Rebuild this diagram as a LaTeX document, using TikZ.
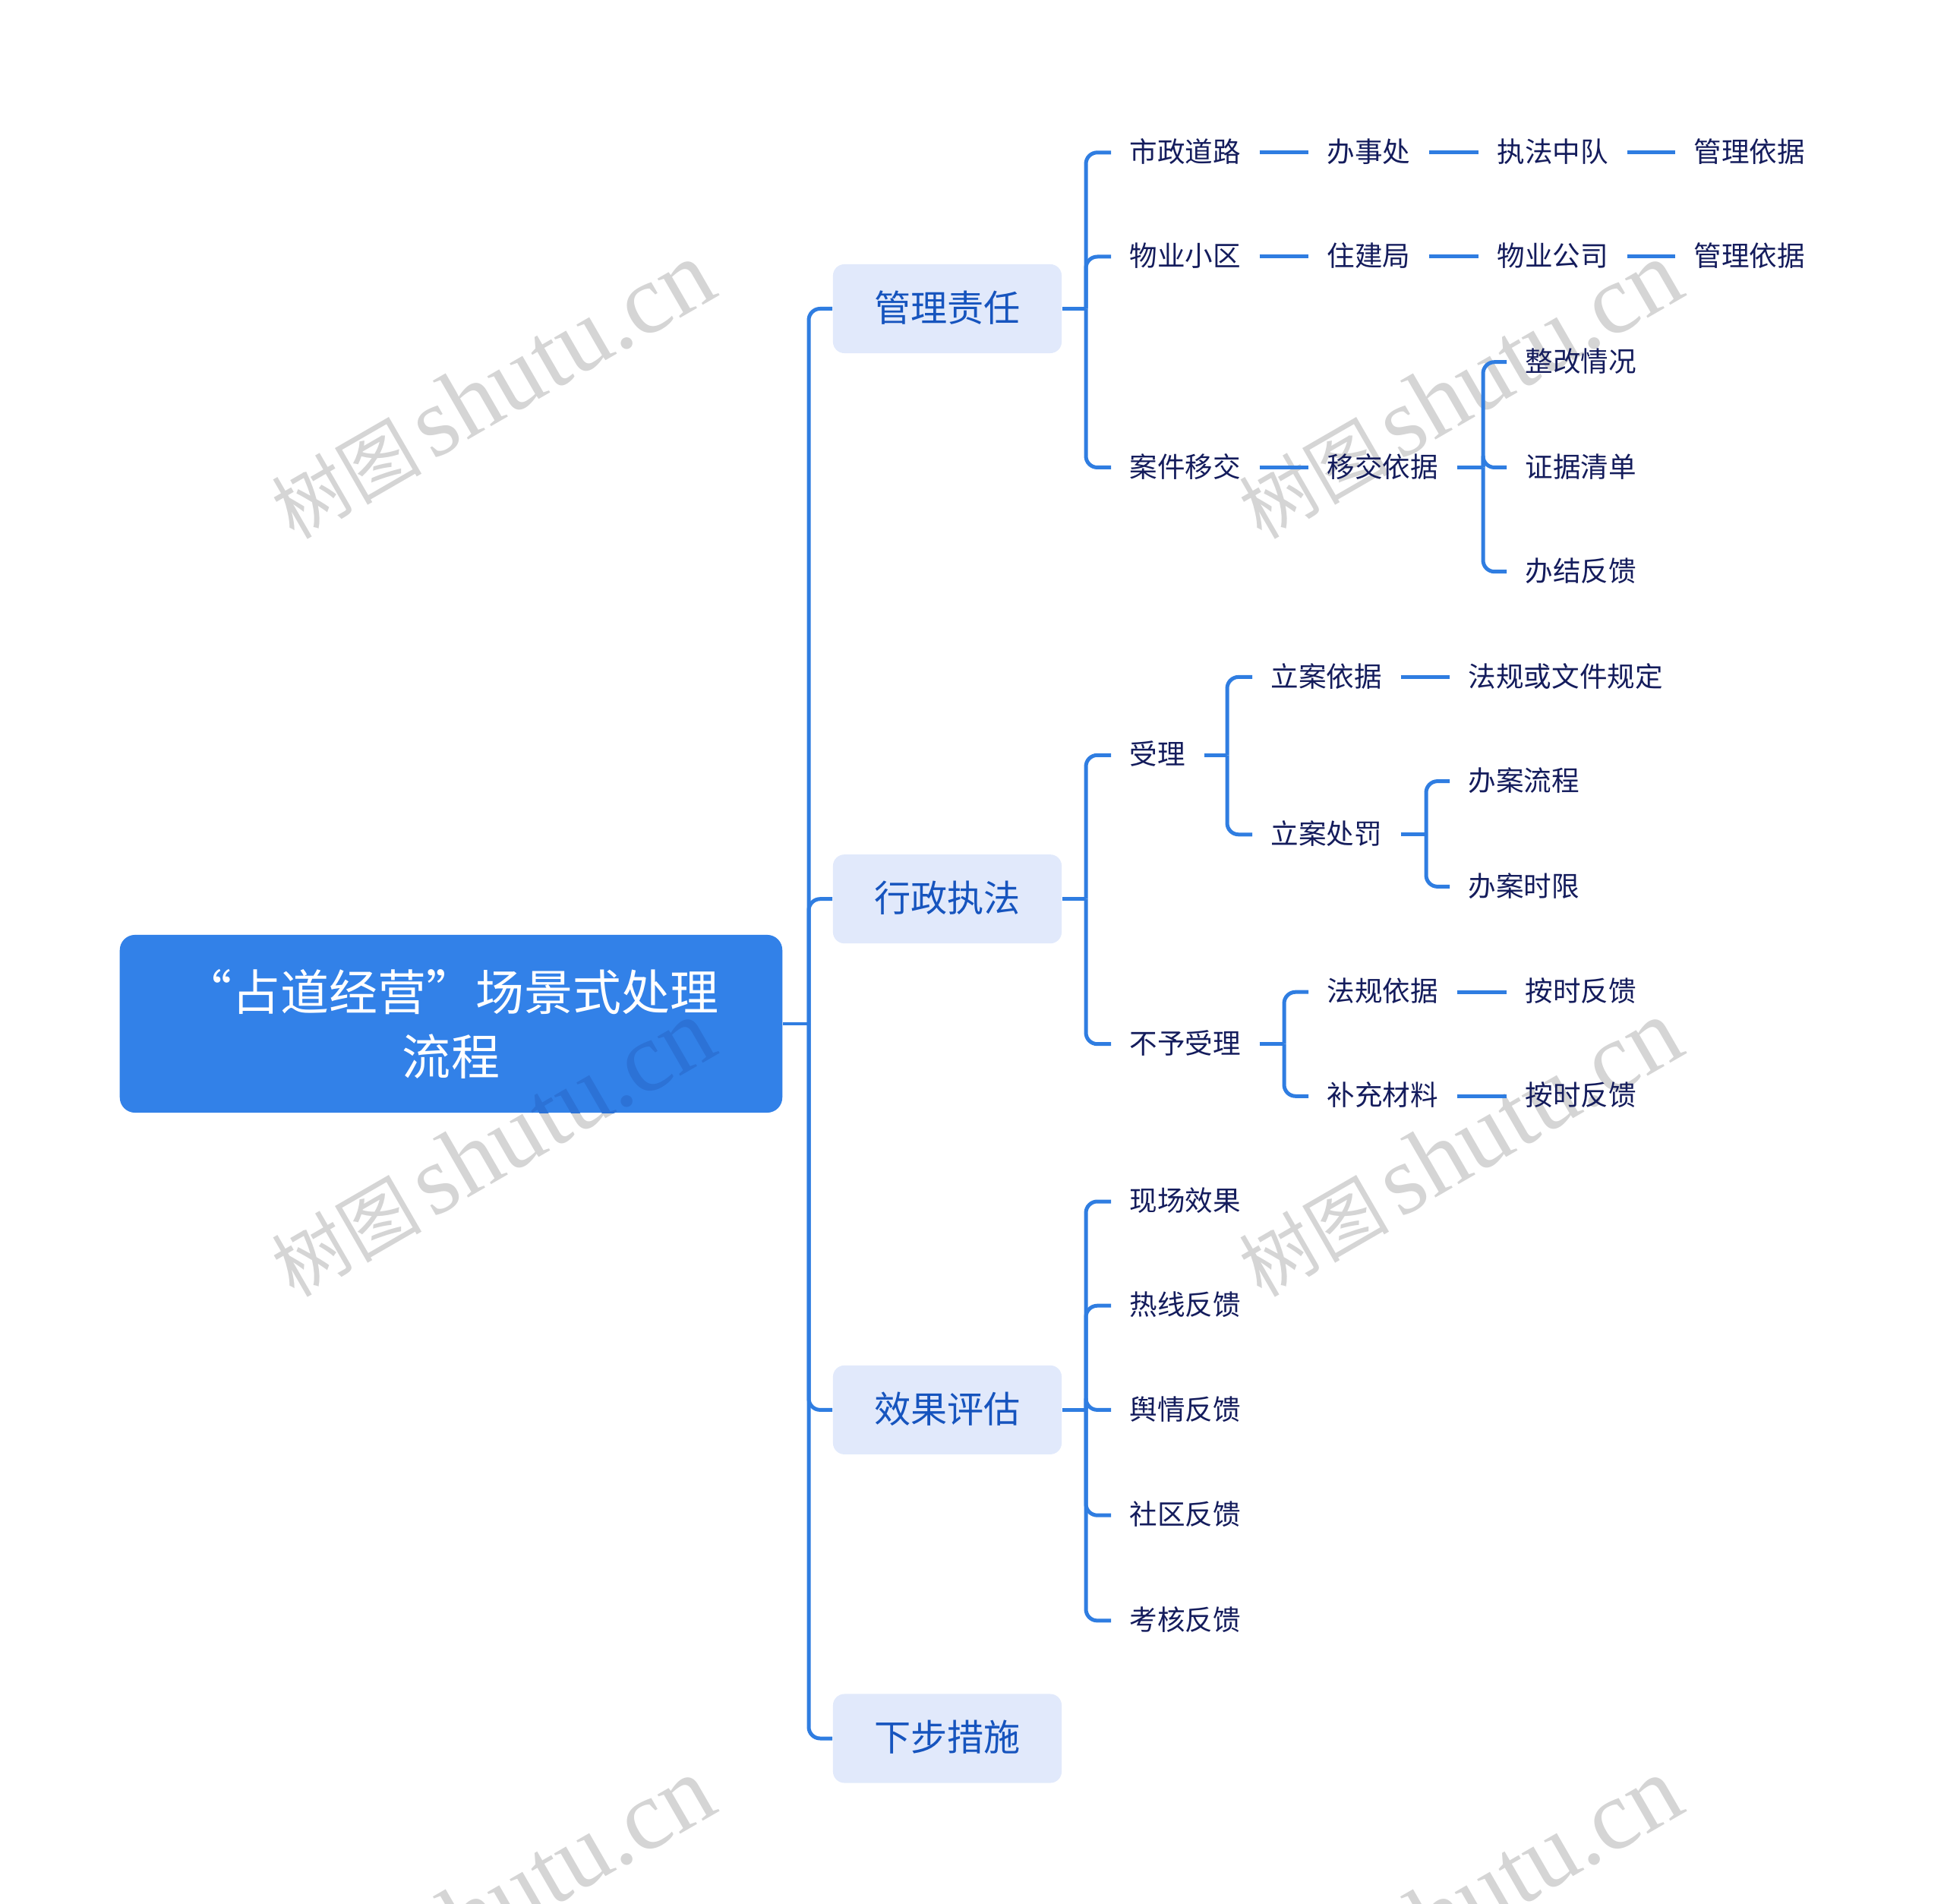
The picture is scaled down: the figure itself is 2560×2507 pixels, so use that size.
\documentclass[tikz,border=0pt]{standalone}
\usepackage{fontspec}
\newfontfamily\cjk{Noto Sans CJK SC}
\newfontfamily\wmfont{Liberation Serif}
\definecolor{lnblue}{HTML}{2F7DE1}
\definecolor{rootfill}{HTML}{3281E8}
\definecolor{boxfill}{HTML}{E1E9FB}
\definecolor{ltext}{HTML}{1654BE}
\definecolor{navy}{HTML}{141C5C}
\definecolor{wm}{HTML}{D5D5D5}
\definecolor{wmdark}{HTML}{2C72D6}
\newcommand{\wmtext}{{\cjk\fontsize{28pt}{30pt}\selectfont 树图}\hspace{4pt}{\wmfont\fontsize{37pt}{40pt}\selectfont shutu.cn}}
\begin{document}
\begin{tikzpicture}[x=0.01cm,y=-0.01cm,
 conn/.style={draw=lnblue, line width=1.42pt, rounded corners=0.15cm},
 leaf/.style={anchor=west, inner xsep=0.24cm, inner ysep=0pt, text=navy,
   font=\cjk\fontsize{10.4pt}{12pt}\selectfont, text height=8.8pt, text depth=1.6pt},
 lone/.style={fill=boxfill, rounded corners=0.15cm, minimum width=3.01cm,
   minimum height=1.17cm, text=ltext, font=\cjk\fontsize{13.7pt}{16pt}\selectfont,
   inner sep=0pt, text height=11.6pt, text depth=2.1pt},
 rootbox/.style={fill=rootfill, rounded corners=0.2cm, minimum width=8.72cm,
   minimum height=2.34cm, text=white, align=center,
   font=\cjk\fontsize{18.2pt}{24.2pt}\selectfont, inner sep=0pt},
 wmk/.style={rotate=30, inner sep=0pt}
]
\useasboundingbox (0,0) rectangle (2560,2507);
\clip (0,0) rectangle (2560,2507);

% watermarks
\node[wmk, text=wm] (w1) at (648,514) {\wmtext};
\node[wmk, text=wm] (w2) at (1922,514) {\wmtext};
\node[wmk, text=wm] (w3) at (648,1512) {\wmtext};
\node[wmk, text=wm] (w4) at (1922,1512) {\wmtext};
\node[wmk, text=wm] (w5) at (648,2510) {\wmtext};
\node[wmk, text=wm] (w6) at (1922,2510) {\wmtext};

% root and main branches
\node[rootbox] (root) at (594,1348) {“占道经营”场景式处理\\流程};
\begin{scope}
\clip[rounded corners=0.2cm] (root.north west) rectangle (root.south east);
\node[wmk, text=wmdark] (w3b) at (648,1512) {\wmtext};
\end{scope}

\node[lone] (g1) at (1247.5,406.5) {管理责任};
\node[lone] (g2) at (1247.5,1183.7) {行政执法};
\node[lone] (g3) at (1247.5,1856.4) {效果评估};
\node[lone] (g4) at (1247.5,2289) {下步措施};

\coordinate (sp0) at (1065,1348);
\draw[conn] (root.east) -- (sp0);
\foreach \g in {g1,g2,g3,g4} \draw[conn] (sp0) |- (\g.west);

% group 1
\node[leaf] (a1) at (1463,200.8) {市政道路};
\node[leaf] (a2) at (1723,200.8) {办事处};
\node[leaf] (a3) at (1947,200.8) {执法中队};
\node[leaf] (a4) at (2206,200.8) {管理依据};
\node[leaf] (b1) at (1463,338) {物业小区};
\node[leaf] (b2) at (1723,338) {住建局};
\node[leaf] (b3) at (1947,338) {物业公司};
\node[leaf] (b4) at (2206,338) {管理依据};
\node[leaf] (c1) at (1463,615.5) {案件移交};
\node[leaf] (c2) at (1723,615.5) {移交依据};
\node[leaf] (c3) at (1984,476.7) {整改情况};
\node[leaf] (c4) at (1984,615.5) {证据清单};
\node[leaf] (c5) at (1984,752.7) {办结反馈};

\coordinate (sp1) at (1430,406.5);
\draw[conn] (g1.east) -- (sp1);
\foreach \n in {a1,b1,c1} \draw[conn] (sp1) |- (\n.west);
\draw[conn] (a1.east) -- (a2.west);
\draw[conn] (a2.east) -- (a3.west);
\draw[conn] (a3.east) -- (a4.west);
\draw[conn] (b1.east) -- (b2.west);
\draw[conn] (b2.east) -- (b3.west);
\draw[conn] (b3.east) -- (b4.west);
\draw[conn] (c1.east) -- (c2.west);
\coordinate (sp2) at (1953,615.5);
\draw[conn] (c2.east) -- (sp2);
\foreach \n in {c3,c4,c5} \draw[conn] (sp2) |- (\n.west);

% group 2
\node[leaf] (d1) at (1463,994.3) {受理};
\node[leaf] (d2) at (1649,891.4) {立案依据};
\node[leaf] (d3) at (1909,891.4) {法规或文件规定};
\node[leaf] (d4) at (1649,1098.8) {立案处罚};
\node[leaf] (d5) at (1909,1028.6) {办案流程};
\node[leaf] (d6) at (1909,1167.4) {办案时限};
\node[leaf] (e1) at (1463,1374.7) {不予受理};
\node[leaf] (e2) at (1723,1306.2) {法规依据};
\node[leaf] (e3) at (1984,1306.2) {按时反馈};
\node[leaf] (e4) at (1723,1443.3) {补充材料};
\node[leaf] (e5) at (1984,1443.3) {按时反馈};

\coordinate (sp3) at (1430,1183.7);
\draw[conn] (g2.east) -- (sp3);
\foreach \n in {d1,e1} \draw[conn] (sp3) |- (\n.west);
\coordinate (sp4) at (1616,994.3);
\draw[conn] (d1.east) -- (sp4);
\foreach \n in {d2,d4} \draw[conn] (sp4) |- (\n.west);
\draw[conn] (d2.east) -- (d3.west);
\coordinate (sp5) at (1878,1098.8);
\draw[conn] (d4.east) -- (sp5);
\foreach \n in {d5,d6} \draw[conn] (sp5) |- (\n.west);
\coordinate (sp6) at (1691,1374.7);
\draw[conn] (e1.east) -- (sp6);
\foreach \n in {e2,e4} \draw[conn] (sp6) |- (\n.west);
\draw[conn] (e2.east) -- (e3.west);
\draw[conn] (e4.east) -- (e5.west);

% group 3
\node[leaf] (f1) at (1463,1582) {现场效果};
\node[leaf] (f2) at (1463,1719.2) {热线反馈};
\node[leaf] (f3) at (1463,1856.4) {舆情反馈};
\node[leaf] (f4) at (1463,1995.2) {社区反馈};
\node[leaf] (f5) at (1463,2133.9) {考核反馈};
\coordinate (sp7) at (1430,1856.4);
\draw[conn] (g3.east) -- (sp7);
\foreach \n in {f1,f2,f3,f4,f5} \draw[conn] (sp7) |- (\n.west);
\end{tikzpicture}
\end{document}
